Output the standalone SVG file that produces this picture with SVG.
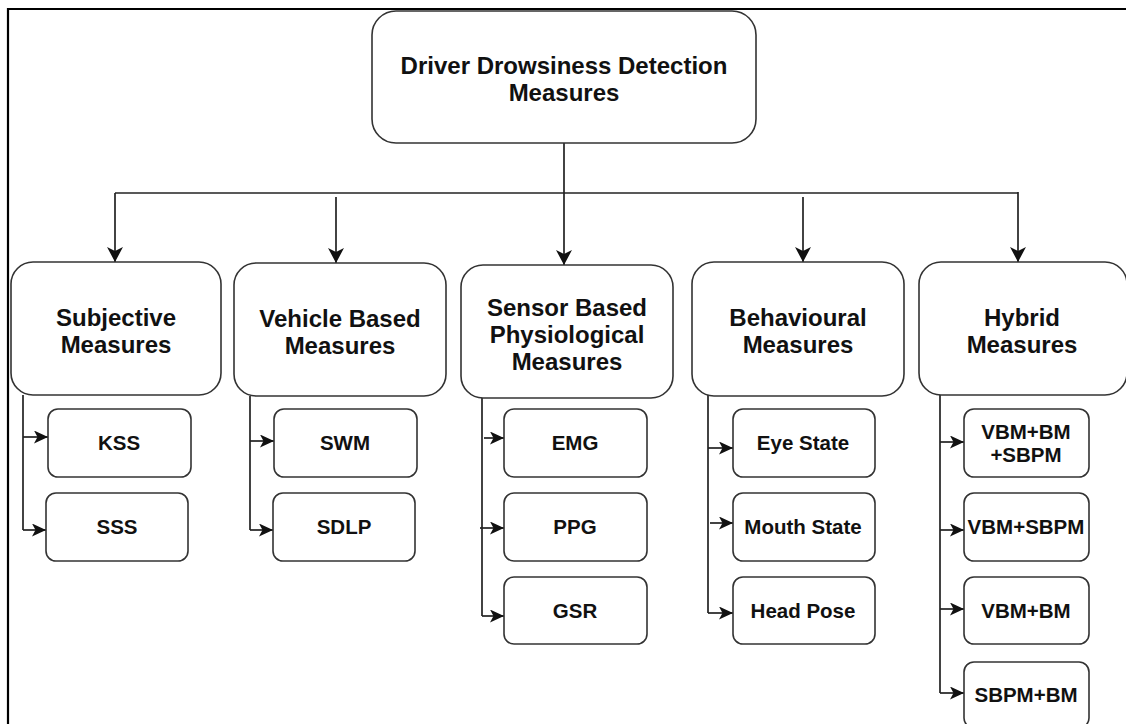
<svg xmlns="http://www.w3.org/2000/svg" width="1126" height="724" viewBox="0 0 1126 724">
<style>
.box{fill:#fff;stroke:#333;stroke-width:1.6}
.t{font-family:"Liberation Sans",Arial,sans-serif;font-weight:bold;fill:#111;text-anchor:middle}
.m{font-size:24px}
.s{font-size:20.5px}
.c{fill:none;stroke:#222;stroke-width:1.7}
</style>
<defs>
<marker id="ah" markerWidth="18" markerHeight="18" refX="15" refY="8" orient="auto" markerUnits="userSpaceOnUse">
<path d="M0,0 L15,8 L0,16 L4,8 Z" fill="#111"/>
</marker>
<marker id="ah2" markerWidth="16" markerHeight="16" refX="14" refY="6.5" orient="auto" markerUnits="userSpaceOnUse">
<path d="M0,0 L14,6.5 L0,13 L3.5,6.5 Z" fill="#111"/>
</marker>
</defs>
<rect width="1126" height="724" fill="#fff"/>
<path d="M8,724 L8,9 L1126,9" fill="none" stroke="#000" stroke-width="2.2"/>

<g id="connectors">
<path class="c" d="M564,143 L564,193"/>
<path class="c" d="M115,193 L1018,193"/>
<path class="c" d="M115,193 L115,262" marker-end="url(#ah)"/>
<path class="c" d="M336,197 L336,263" marker-end="url(#ah)"/>
<path class="c" d="M564,193 L564,265" marker-end="url(#ah)"/>
<path class="c" d="M803,197 L803,262" marker-end="url(#ah)"/>
<path class="c" d="M1018,192 L1018,262" marker-end="url(#ah)"/>

<path class="c" d="M23,395 L23,530"/>
<path class="c" d="M23,437 L48,437" marker-end="url(#ah2)"/>
<path class="c" d="M23,530 L46,530" marker-end="url(#ah2)"/>

<path class="c" d="M250,396 L250,530"/>
<path class="c" d="M250,441 L274,441" marker-end="url(#ah2)"/>
<path class="c" d="M250,530 L273,530" marker-end="url(#ah2)"/>

<path class="c" d="M482,395 L482,616"/>
<path class="c" d="M484,438 L504,438" marker-end="url(#ah2)"/>
<path class="c" d="M480,528 L504,528" marker-end="url(#ah2)"/>
<path class="c" d="M482,616 L504,616" marker-end="url(#ah2)"/>

<path class="c" d="M708,395 L708,613"/>
<path class="c" d="M708,448 L733,448" marker-end="url(#ah2)"/>
<path class="c" d="M710,523 L733,523" marker-end="url(#ah2)"/>
<path class="c" d="M708,613 L733,613" marker-end="url(#ah2)"/>

<path class="c" d="M940,395 L940,693"/>
<path class="c" d="M940,442 L964,442" marker-end="url(#ah2)"/>
<path class="c" d="M940,530 L964,530" marker-end="url(#ah2)"/>
<path class="c" d="M940,609 L964,609" marker-end="url(#ah2)"/>
<path class="c" d="M940,693 L964,693" marker-end="url(#ah2)"/>
</g>

<g id="root">
<rect class="box" x="372" y="11" width="384" height="132" rx="24"/>
<text class="t m" x="564" y="74">Driver Drowsiness Detection</text>
<text class="t m" x="564" y="101">Measures</text>
</g>

<g id="subjective">
<rect class="box" x="11" y="262" width="210" height="133" rx="22"/>
<text class="t m" x="116" y="326">Subjective</text>
<text class="t m" x="116" y="353">Measures</text>
</g>
<g id="vehicle">
<rect class="box" x="234" y="263" width="212" height="133" rx="22"/>
<text class="t m" x="340" y="327">Vehicle Based</text>
<text class="t m" x="340" y="354">Measures</text>
</g>
<g id="sensor">
<rect class="box" x="461" y="265" width="212" height="133" rx="22"/>
<text class="t m" x="567" y="316">Sensor Based</text>
<text class="t m" x="567" y="343">Physiological</text>
<text class="t m" x="567" y="370">Measures</text>
</g>
<g id="behavioural">
<rect class="box" x="692" y="262" width="212" height="134" rx="22"/>
<text class="t m" x="798" y="326">Behavioural</text>
<text class="t m" x="798" y="353">Measures</text>
</g>
<g id="hybrid">
<rect class="box" x="919" y="262" width="208" height="133" rx="22"/>
<text class="t m" x="1022" y="326">Hybrid</text>
<text class="t m" x="1022" y="353">Measures</text>
</g>

<g id="kss"><rect class="box" x="48" y="409" width="143" height="68" rx="10"/><text class="t s" x="119" y="450">KSS</text></g>
<g id="sss"><rect class="box" x="46" y="493" width="142" height="68" rx="10"/><text class="t s" x="117" y="534">SSS</text></g>

<g id="swm"><rect class="box" x="274" y="409" width="143" height="68" rx="10"/><text class="t s" x="345" y="450">SWM</text></g>
<g id="sdlp"><rect class="box" x="273" y="493" width="142" height="68" rx="10"/><text class="t s" x="344" y="534">SDLP</text></g>

<g id="emg"><rect class="box" x="504" y="409" width="143" height="68" rx="10"/><text class="t s" x="575" y="450">EMG</text></g>
<g id="ppg"><rect class="box" x="504" y="493" width="143" height="68" rx="10"/><text class="t s" x="575" y="534">PPG</text></g>
<g id="gsr"><rect class="box" x="504" y="577" width="143" height="67" rx="10"/><text class="t s" x="575" y="618">GSR</text></g>

<g id="eye"><rect class="box" x="733" y="409" width="142" height="68" rx="10"/><text class="t s" x="803" y="450">Eye State</text></g>
<g id="mouth"><rect class="box" x="733" y="493" width="142" height="68" rx="10"/><text class="t s" x="803" y="534">Mouth State</text></g>
<g id="head"><rect class="box" x="733" y="577" width="142" height="67" rx="10"/><text class="t s" x="803" y="618">Head Pose</text></g>

<g id="h1"><rect class="box" x="964" y="409" width="125" height="68" rx="10"/><text class="t s" x="1026" y="439">VBM+BM</text><text class="t s" x="1026" y="462">+SBPM</text></g>
<g id="h2"><rect class="box" x="964" y="493" width="125" height="68" rx="10"/><text class="t s" x="1026" y="534">VBM+SBPM</text></g>
<g id="h3"><rect class="box" x="964" y="577" width="125" height="67" rx="10"/><text class="t s" x="1026" y="618">VBM+BM</text></g>
<g id="h4"><rect class="box" x="964" y="662" width="125" height="66" rx="10"/><text class="t s" x="1026" y="702">SBPM+BM</text></g>
</svg>
